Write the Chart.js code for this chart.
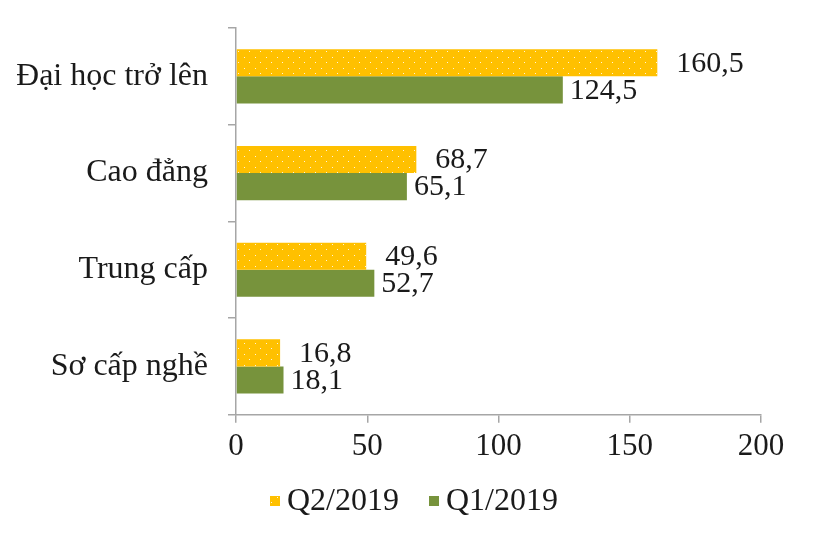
<!DOCTYPE html>
<html>
<head>
<meta charset="utf-8">
<script src="https://cdn.jsdelivr.net/npm/chart.js@4"></script>
<style>
  html, body { margin: 0; padding: 0; background: #fff; }
  #wrap { width: 814px; height: 540px; }
</style>
</head>
<body>
<div id="wrap"><canvas id="chart" width="814" height="540"></canvas></div>
<script>
const YELLOW = '#FFC000';
const GREEN  = '#77933C';
const AXIS   = '#A6A6A6';
const TEXT   = '#1a1a1a';
const FONT   = "'Liberation Serif', 'Times New Roman', serif";

const categories = ['Đại học trở lên', 'Cao đẳng', 'Trung cấp', 'Sơ cấp nghề'];
const seriesNames = ['Q2/2019', 'Q1/2019'];
const q2Values = [160.5, 68.7, 49.6, 16.8];
const q1Values = [124.5, 65.1, 52.7, 18.1];
const xTicks = [0, 50, 100, 150, 200];

// yellow fill with small white dots
function dotPattern() {
  const c = document.createElement('canvas');
  c.width = 11; c.height = 11;
  const g = c.getContext('2d');
  g.fillStyle = YELLOW;
  g.fillRect(0, 0, 11, 11);
  g.fillStyle = 'rgba(255,255,255,0.85)';
  g.fillRect(2, 2, 1, 1);
  g.fillRect(7, 7, 1, 1);
  return g.createPattern(c, 'repeat');
}

const valueLabels = {
  id: 'valueLabels',
  afterDatasetsDraw(chart) {
    const ctx = chart.ctx;
    ctx.save();
    ctx.font = '30px ' + FONT;
    ctx.fillStyle = TEXT;
    ctx.textAlign = 'left';
    ctx.textBaseline = 'middle';
    chart.data.datasets.forEach((ds, i) => {
      const offset = i === 0 ? 19 : 7;
      chart.getDatasetMeta(i).data.forEach((bar, j) => {
        const txt = ds.data[j].toFixed(1).replace('.', ',');
        ctx.fillText(txt, bar.x + offset, bar.y + 1);
      });
    });
    ctx.restore();
  }
};

// legend drawn by hand: Excel-like small boxes, tight gap to text
const bottomLegend = {
  id: 'bottomLegend',
  afterDraw(chart) {
    const ctx = chart.ctx;
    ctx.save();
    ctx.font = '32px ' + FONT;
    ctx.textBaseline = 'middle';
    ctx.textAlign = 'left';
    const box = 10, gap = 7, spacing = 30, cy = 501;
    const items = chart.data.datasets.map(ds => ({ ds, w: box + gap + ctx.measureText(ds.label).width }));
    const total = items.reduce((s, it) => s + it.w, 0) + spacing * (items.length - 1);
    let x = 414 - total / 2;
    items.forEach(it => {
      ctx.fillStyle = it.ds.backgroundColor;
      ctx.fillRect(x, cy - box / 2, box, box);
      ctx.fillStyle = TEXT;
      ctx.fillText(it.ds.label, x + box + gap, cy + 1);
      x += it.w + spacing;
    });
    ctx.restore();
  }
};

new Chart(document.getElementById('chart').getContext('2d'), {
  type: 'bar',
  data: {
    labels: categories,
    datasets: [
      { label: seriesNames[0], data: q2Values, backgroundColor: dotPattern(), borderWidth: 0, categoryPercentage: 0.56, barPercentage: 1 },
      { label: seriesNames[1], data: q1Values, backgroundColor: GREEN, borderWidth: 0, categoryPercentage: 0.56, barPercentage: 1 }
    ]
  },
  options: {
    indexAxis: 'y',
    responsive: false,
    animation: false,
    layout: { padding: { left: 17, right: 53, top: 28, bottom: 70 } },
    plugins: {
      tooltip: { enabled: false },
      legend: { display: false }
    },
    scales: {
      x: {
        min: 0, max: 200,
        afterBuildTicks: axis => { axis.ticks = xTicks.map(v => ({ value: v })); },
        border: { color: AXIS, width: 1.5 },
        grid: { display: true, drawOnChartArea: false, drawTicks: true, tickLength: 8, color: AXIS, lineWidth: 1.5 },
        ticks: { color: TEXT, padding: 5, font: { family: FONT, size: 31 } }
      },
      y: {
        offset: true,
        afterFit: axis => { axis.width = 219; axis.paddingTop = 0; axis.paddingBottom = 0; },
        border: { color: AXIS, width: 1.5 },
        grid: { display: true, offset: true, drawOnChartArea: false, drawTicks: true, tickLength: 8, color: AXIS, lineWidth: 1.5 },
        ticks: { color: TEXT, padding: 20, font: { family: FONT, size: 32 } }
      }
    }
  },
  plugins: [valueLabels, bottomLegend]
});
</script>
</body>
</html>
